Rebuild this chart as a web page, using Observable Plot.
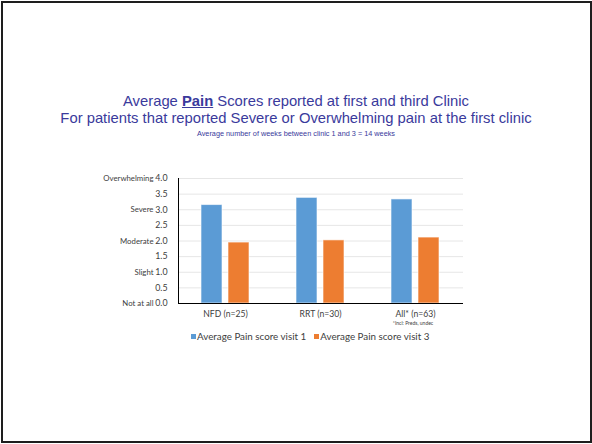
<!DOCTYPE html>
<html>
<head>
<meta charset="utf-8">
<script src="https://cdn.jsdelivr.net/npm/d3@7"></script>
<script src="https://cdn.jsdelivr.net/npm/@observablehq/plot@0.6"></script>
<style>
  html, body { margin: 0; padding: 0; background: #fff; width: 592px; height: 444px; overflow: hidden; }
  #frame { position: absolute; left: 1px; top: 1px; width: 587px; height: 438px; border: 2px solid #1e1e1e; }
  .t { position: absolute; left: 0; width: 592px; text-align: center; font-family: "Liberation Sans", Arial, sans-serif; color: #3a3a9c; line-height: 1; white-space: nowrap; }
  #chart { position: absolute; left: 0; top: 165px; }
  #legend { position: absolute; left: 191px; top: 331px; display: flex; align-items: center; font-family: Lato, "Open Sans", sans-serif; font-size: 9.8px; line-height: 11px; color: #404040; white-space: nowrap; }
  .sw { display: inline-block; width: 5px; height: 5px; margin-right: 1px; }
  .item { display: flex; align-items: center; margin-right: 8px; }
</style>
</head>
<body>
<div id="frame"></div>
<div class="t" style="top:94.2px;font-size:14.8px;">Average <b><u>Pain</u></b> Scores reported at first and third Clinic</div>
<div class="t" style="top:111.2px;font-size:14.8px;">For patients that reported Severe or Overwhelming pain at the first clinic</div>
<div class="t" style="top:130px;font-size:7.3px;">Average number of weeks between clinic 1 and 3 = 14 weeks</div>
<div id="chart"></div>
<div id="legend"></div>
<script>
const categories = ["NFD (n=25)", "RRT (n=30)", "All* (n=63)"];
const series = ["Average Pain score visit 1", "Average Pain score visit 3"];
const visit1 = [3.15, 3.38, 3.33];
const visit3 = [1.95, 2.02, 2.11];
const yTicks = [0, 0.5, 1, 1.5, 2, 2.5, 3, 3.5, 4];
const painLevelTicks = [0, 1, 2, 3, 4];
const painLevels = ["Not at all", "Slight", "Moderate", "Severe", "Overwhelming"];
const footnote = "*Incl: Preds, undec";
const colors = ["#5B9BD5", "#ED7D31"];

const d1 = categories.map((c, i) => ({category: c, series: series[0], value: visit1[i]}));
const d3v = categories.map((c, i) => ({category: c, series: series[1], value: visit3[i]}));

const font = "Lato, 'Open Sans', sans-serif";
const chart = Plot.plot({
  width: 592,
  height: 190,
  marginLeft: 178,
  marginRight: 129,
  marginTop: 13,
  marginBottom: 52,
  style: {fontFamily: font, background: "transparent", color: "#404040"},
  x: {domain: categories, paddingInner: 0.49, paddingOuter: 0.245, axis: null},
  y: {domain: [0, 4], axis: null},
  color: {domain: series, range: colors},
  marks: [
    Plot.gridY(yTicks, {stroke: "#e6e6e6", strokeOpacity: 1, strokeWidth: 1}),
    Plot.barY(d1, {x: "category", y: "value", fill: "series", insetLeft: 0, insetRight: 27, stroke: "white", strokeOpacity: 0.6, strokeWidth: 1}),
    Plot.barY(d3v, {x: "category", y: "value", fill: "series", insetLeft: 27, insetRight: 0, stroke: "white", strokeOpacity: 0.6, strokeWidth: 1}),
    Plot.ruleY([0], {stroke: "#000", strokeWidth: 1.2}),
    Plot.ruleX([0], {y1: 0, y2: 4, x: null, dx: -(592 - 178 - 129) / 2, stroke: "#000", strokeWidth: 1}),
    Plot.axisY(yTicks, {tickFormat: d3.format(".1f"), tickSize: 0, tickPadding: 11, fontSize: 8.8, fill: "#404040", label: null}),
    Plot.axisY(painLevelTicks, {tickFormat: d => painLevels[d], tickSize: 0, tickPadding: 25, fontSize: 7.8, fill: "#404040", label: null}),
    Plot.text(categories, {x: d => d, frameAnchor: "bottom", dy: 13, fontSize: 8.6, fill: "#404040"}),
    Plot.text([footnote], {x: () => categories[2], frameAnchor: "bottom", dy: 21, dx: -2.5, fontSize: 5, fill: "#404040"})
  ]
});
document.getElementById("chart").appendChild(chart);

const legend = document.getElementById("legend");
series.forEach((s, i) => {
  const item = document.createElement("span");
  item.className = "item";
  const sw = document.createElement("span");
  sw.className = "sw";
  sw.style.background = colors[i];
  item.appendChild(sw);
  item.appendChild(document.createTextNode(s));
  legend.appendChild(item);
});
</script>
</body>
</html>
